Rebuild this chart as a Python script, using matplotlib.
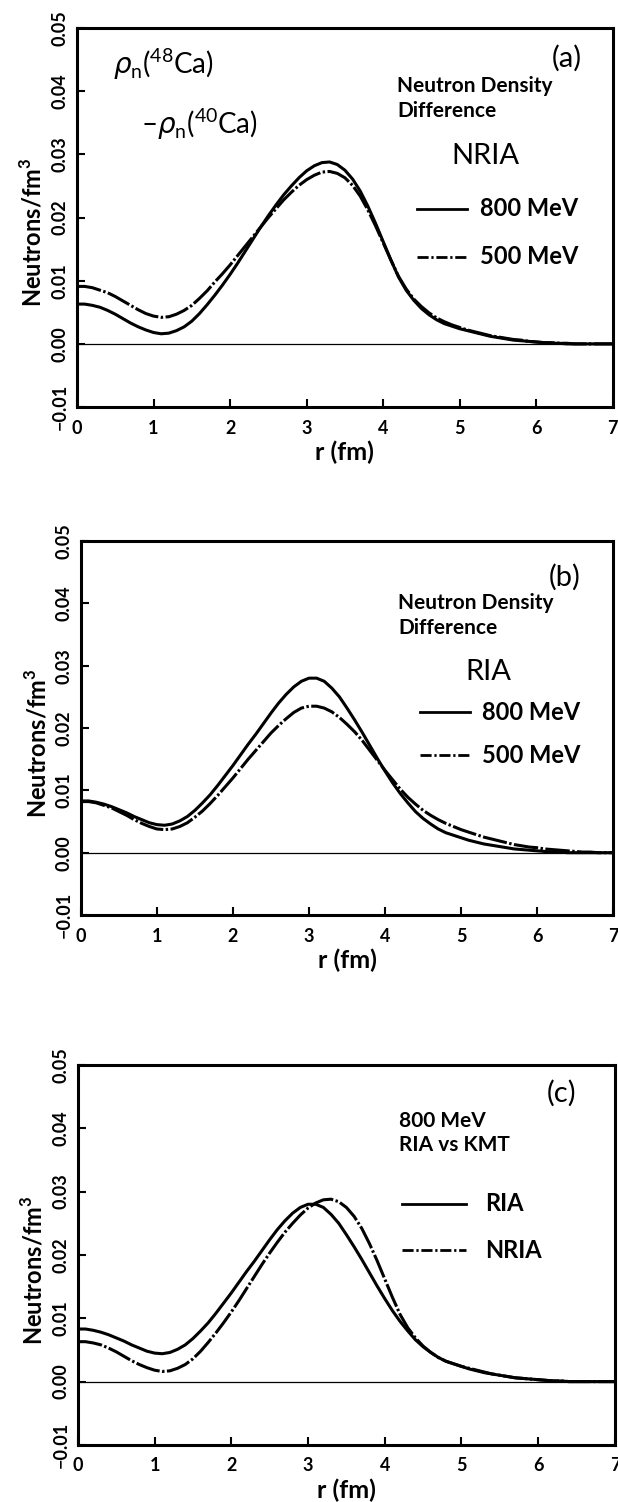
import numpy as np
import matplotlib
matplotlib.use("Agg")
import matplotlib.pyplot as plt

plt.rcParams['font.family'] = ['Lato', 'DejaVu Sans']
plt.rcParams['mathtext.fontset'] = 'custom'
plt.rcParams['mathtext.rm'] = 'Lato'
plt.rcParams['mathtext.bf'] = 'Lato:bold'
plt.rcParams['mathtext.it'] = 'DejaVu Sans:italic'

# radial grid (fm)
r = np.round(np.arange(0, 7.001, 0.1), 2)

# neutron density difference rho_n(48Ca) - rho_n(40Ca), neutrons/fm^3
nria_800 = [0.0063, 0.0063, 0.0061, 0.0058, 0.0053, 0.0047, 0.0040, 0.0033, 0.0027, 0.0022,
            0.0018, 0.0016, 0.0017, 0.0021, 0.0027, 0.0036, 0.0048, 0.0062, 0.0077, 0.0093,
            0.0110, 0.0128, 0.0147, 0.0166, 0.0185, 0.0203, 0.0220, 0.0236, 0.0250, 0.0263,
            0.0274, 0.0282, 0.0287, 0.0288, 0.0284, 0.0275, 0.0261, 0.0242, 0.0218, 0.0191,
            0.0162, 0.0133, 0.0106, 0.0085, 0.0069, 0.0056, 0.0046, 0.0038, 0.0032, 0.0028,
            0.0024, 0.0021, 0.0018, 0.0015, 0.0012, 0.0010, 0.0008, 0.0006, 0.0005, 0.0004,
            0.0003, 0.0002, 0.0001, 0.0001, 0.0, 0.0, 0.0, 0.0, 0.0, 0.0, 0.0]
nria_500 = [0.0091, 0.0091, 0.0089, 0.0085, 0.0081, 0.0075, 0.0068, 0.0061, 0.0054, 0.0048,
            0.0044, 0.0042, 0.0043, 0.0047, 0.0053, 0.0061, 0.0072, 0.0084, 0.0098, 0.0111,
            0.0125, 0.0140, 0.0155, 0.0170, 0.0185, 0.0200, 0.0214, 0.0228, 0.0240, 0.0251,
            0.0260, 0.0267, 0.0272, 0.0273, 0.0270, 0.0263, 0.0251, 0.0234, 0.0212, 0.0187,
            0.0160, 0.0133, 0.0107, 0.0087, 0.0071, 0.0059, 0.0049, 0.0041, 0.0035, 0.0030,
            0.0026, 0.0022, 0.0019, 0.0016, 0.0013, 0.0011, 0.0009, 0.0007, 0.0006, 0.0004,
            0.0003, 0.0002, 0.0002, 0.0001, 0.0001, 0.0, 0.0, 0.0, 0.0, 0.0, 0.0]
ria_800 = [0.0083, 0.0083, 0.0081, 0.0078, 0.0074, 0.0069, 0.0064, 0.0058, 0.0053, 0.0048,
           0.0045, 0.0044, 0.0046, 0.0051, 0.0058, 0.0068, 0.0080, 0.0093, 0.0108, 0.0124,
           0.0140, 0.0157, 0.0174, 0.0190, 0.0207, 0.0224, 0.0240, 0.0254, 0.0266, 0.0275,
           0.0280, 0.0280, 0.0275, 0.0264, 0.0250, 0.0232, 0.0213, 0.0193, 0.0172, 0.0151,
           0.0131, 0.0112, 0.0095, 0.0080, 0.0066, 0.0055, 0.0046, 0.0038, 0.0032, 0.0028,
           0.0024, 0.0020, 0.0017, 0.0014, 0.0012, 0.0010, 0.0008, 0.0006, 0.0005, 0.0004,
           0.0003, 0.0002, 0.0001, 0.0001, 0.0, 0.0, 0.0, 0.0, 0.0, 0.0, 0.0]
ria_500 = [0.0082, 0.0082, 0.0080, 0.0076, 0.0072, 0.0066, 0.0060, 0.0053, 0.0047, 0.0042,
           0.0038, 0.0037, 0.0038, 0.0042, 0.0048, 0.0057, 0.0067, 0.0079, 0.0092, 0.0106,
           0.0120, 0.0135, 0.0150, 0.0164, 0.0178, 0.0192, 0.0204, 0.0215, 0.0225, 0.0232,
           0.0235, 0.0235, 0.0232, 0.0226, 0.0217, 0.0206, 0.0194, 0.0180, 0.0164, 0.0148,
           0.0132, 0.0117, 0.0102, 0.0089, 0.0078, 0.0068, 0.0060, 0.0053, 0.0047, 0.0042,
           0.0037, 0.0033, 0.0029, 0.0025, 0.0022, 0.0019, 0.0016, 0.0013, 0.0011, 0.0009,
           0.0008, 0.0006, 0.0005, 0.0004, 0.0003, 0.0002, 0.0001, 0.0001, 0.0, 0.0, 0.0]

xticks = [0, 1, 2, 3, 4, 5, 6, 7]
yticks = [-0.01, 0.0, 0.01, 0.02, 0.03, 0.04, 0.05]
ytick_labels = ['−0.01', '0.00', '0.01', '0.02', '0.03', '0.04', '0.05']

DASHDOT = (0, (8, 0.8, 0.8, 0.8))
LEG_DASHDOT = (0, (4, 1, 0.8, 1))

fig = plt.figure(figsize=(6.18, 15.02), dpi=100)


def frame(rect):
    ax = fig.add_axes(rect)
    ax.set_xlim(0, 7)
    ax.set_ylim(-0.01, 0.05)
    ax.axhline(0, color='black', lw=0.9)
    for s in ax.spines.values():
        s.set_linewidth(2.2)
    ax.set_xticks(xticks)
    ax.set_yticks(yticks)
    ax.set_yticklabels(ytick_labels, rotation=90, va='center')
    ax.tick_params(direction='in', length=6, width=1.5, labelsize=13,
                   top=False, right=False)
    ax.tick_params(axis='x', pad=9)
    ax.tick_params(axis='y', pad=6)
    for lab in ax.get_xticklabels() + ax.get_yticklabels():
        lab.set_fontweight('bold')
    ax.set_xlabel('r (fm)', fontsize=18, fontweight='bold', labelpad=3)
    ax.set_ylabel('Neutrons/fm$^\\mathbf{3}$', fontsize=17, fontweight='bold')
    ax.yaxis.set_label_coords(-0.058, 0.46)
    return ax


def legend_line(ax, x0, x1, y, style, label, xt):
    ax.plot([x0, x1], [y, y], color='black', lw=2.0, ls=style)
    ax.text(xt, y, label, fontsize=17, fontweight='bold', va='center', ha='left')


# (a) NRIA
ax = frame([0.1246, 0.729, 0.867, 0.2523])
ax.plot(r, nria_800, color='black', lw=2.2)
ax.plot(r, nria_500, color='black', lw=2.2, ls=DASHDOT)
ax.text(0.47, 0.0443, '$\\rho_\\mathrm{n}$($^{48}$Ca)', fontsize=20, va='center')
ax.text(0.84, 0.0348, '–$\\rho_\\mathrm{n}$($^{40}$Ca)', fontsize=20, va='center')
ax.text(6.4, 0.0452, '(a)', fontsize=21, ha='center', va='center')
ax.text(4.18, 0.0408, 'Neutron Density', fontsize=15, fontweight='bold', va='center')
ax.text(4.18, 0.0368, 'Difference', fontsize=15, fontweight='bold', va='center')
ax.text(5.33, 0.0297, 'NRIA', fontsize=21, ha='center', va='center')
legend_line(ax, 4.44, 5.1, 0.0214, '-', '800 MeV', 5.27)
legend_line(ax, 4.44, 5.1, 0.0138, LEG_DASHDOT, '500 MeV', 5.27)

# (b) RIA
ax = frame([0.131, 0.3908, 0.861, 0.249])
ax.plot(r, ria_800, color='black', lw=2.2)
ax.plot(r, ria_500, color='black', lw=2.2, ls=DASHDOT)
ax.text(6.37, 0.0441, '(b)', fontsize=21, ha='center', va='center')
ax.text(4.17, 0.0401, 'Neutron Density', fontsize=15, fontweight='bold', va='center')
ax.text(4.17, 0.0361, 'Difference', fontsize=15, fontweight='bold', va='center')
ax.text(5.36, 0.0290, 'RIA', fontsize=21, ha='center', va='center')
legend_line(ax, 4.46, 5.12, 0.0225, '-', '800 MeV', 5.28)
legend_line(ax, 4.46, 5.12, 0.0156, LEG_DASHDOT, '500 MeV', 5.28)

# (c) 800 MeV, RIA vs NRIA
ax = frame([0.126, 0.038, 0.869, 0.253])
ax.plot(r, ria_800, color='black', lw=2.2)
ax.plot(r, nria_800, color='black', lw=2.2, ls=DASHDOT)
ax.text(6.31, 0.0455, '(c)', fontsize=21, ha='center', va='center')
ax.text(4.18, 0.0412, '800 MeV', fontsize=15, fontweight='bold', va='center')
ax.text(4.18, 0.0373, 'RIA vs KMT', fontsize=15, fontweight='bold', va='center')
legend_line(ax, 4.22, 5.06, 0.0281, '-', 'RIA', 5.31)
legend_line(ax, 4.22, 5.06, 0.0207, LEG_DASHDOT, 'NRIA', 5.31)

fig.savefig('out.png', dpi=100)
